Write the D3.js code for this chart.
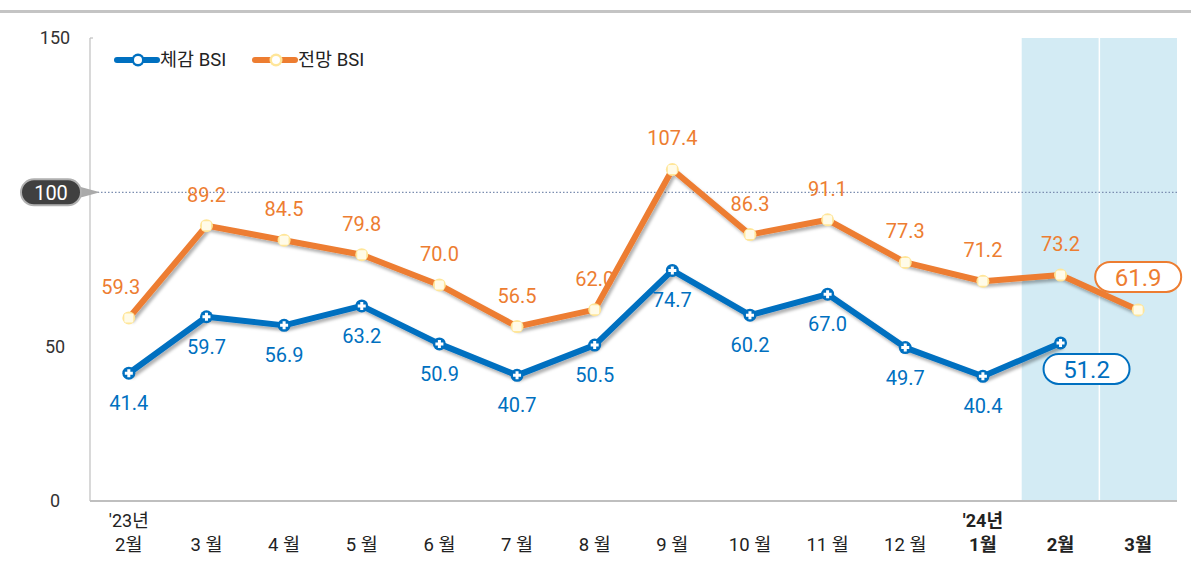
<!DOCTYPE html>
<html>
<head>
<meta charset="utf-8">
<script src="https://d3js.org/d3.v7.min.js"></script>
<style>
  body { margin: 0; background: #fff; }
  text { font-family: Roboto, "Noto Sans CJK KR", sans-serif; }
</style>
</head>
<body>
<svg width="1191" height="572"></svg>
<script>
// categories (x axis), two rows of labels
var months = ["2월", "3 월", "4 월", "5 월", "6 월", "7 월", "8 월", "9 월", "10 월", "11 월", "12 월", "1월", "2월", "3월"];
var yearLabels = ["'23년", "", "", "", "", "", "", "", "", "", "", "'24년", "", ""];
var boldMonths = [11, 12, 13];

// series
var realBSI = [41.4, 59.7, 56.9, 63.2, 50.9, 40.7, 50.5, 74.7, 60.2, 67.0, 49.7, 40.4, 51.2];
var outlookBSI = [59.3, 89.2, 84.5, 79.8, 70.0, 56.5, 62.0, 107.4, 86.3, 91.1, 77.3, 71.2, 73.2, 61.9];
var yTicks = [0, 50, 150];
var refValue = 100;

var blue = "#0070c0", orange = "#ed7d31";

var svg = d3.select("svg");
var margin = {top: 38, right: 14, bottom: 71, left: 90};
var width = +svg.attr("width") - margin.left - margin.right,
    height = +svg.attr("height") - margin.top - margin.bottom;

var defs = svg.append("defs");
var f = defs.append("filter").attr("id", "shadow").attr("x", "-10%").attr("y", "-10%").attr("width", "120%").attr("height", "130%");
f.append("feDropShadow").attr("dx", 2).attr("dy", 3).attr("stdDeviation", 1.8)
  .attr("flood-color", "#000").attr("flood-opacity", 0.3);

// top grey rule
svg.append("rect").attr("x", 0).attr("y", 10).attr("width", 1191).attr("height", 3).attr("fill", "#c4c4c4");

var g = svg.append("g").attr("transform", "translate(" + margin.left + "," + margin.top + ")");

var x = d3.scaleBand().domain(d3.range(months.length)).range([0, width]);
var y = d3.scaleLinear().domain([0, 150]).range([height, 0]);
var cx = function(i) { return x(i) + x.bandwidth() / 2; };

// shaded forecast bands
[12, 13].forEach(function(i) {
  g.append("rect").attr("x", x(i)).attr("y", 0).attr("width", x.bandwidth()).attr("height", height)
    .attr("fill", "#d3ebf4");
});
g.append("line").attr("x1", x(13)).attr("x2", x(13)).attr("y1", 0).attr("y2", height)
  .attr("stroke", "#fff").attr("stroke-width", 1.5);

// axes lines
g.append("line").attr("x1", 0).attr("x2", 0).attr("y1", 0).attr("y2", height).attr("stroke", "#bfbfbf").attr("stroke-width", 1.2);
g.append("line").attr("x1", 0).attr("x2", 3).attr("y1", 0).attr("y2", 0).attr("stroke", "#bfbfbf").attr("stroke-width", 1.2);
g.append("line").attr("x1", 0).attr("x2", width).attr("y1", height).attr("y2", height).attr("stroke", "#bfbfbf").attr("stroke-width", 2);

g.selectAll(".ytick").data(yTicks).enter().append("text")
  .attr("x", -35).attr("y", function(d) { return y(d); }).attr("dy", "0.35em")
  .attr("text-anchor", "middle").attr("font-size", 18).attr("fill", "#333")
  .text(function(d) { return d; });

// reference line at 100
g.append("line").attr("x1", 4).attr("x2", width).attr("y1", y(refValue)).attr("y2", y(refValue))
  .attr("stroke", "#7b8db0").attr("stroke-width", 1.3).attr("stroke-dasharray", "1.5,2");
var ry = y(refValue);
g.append("path")
  .attr("d", "M-12," + (ry - 6) + " L10," + ry + " L-12," + (ry + 6) + " Z")
  .attr("fill", "#aaa");
g.append("rect").attr("x", -69).attr("y", ry - 13).attr("width", 60).attr("height", 26).attr("rx", 13)
  .attr("fill", "#404040").attr("stroke", "#b0b0b0").attr("stroke-width", 2);
g.append("text").attr("x", -39).attr("y", ry).attr("dy", "0.36em").attr("text-anchor", "middle")
  .attr("font-size", 20).attr("fill", "#fff").text(refValue);

// x labels
var xl = g.selectAll(".xl").data(months).enter().append("g")
  .attr("transform", function(d, i) { return "translate(" + cx(i) + "," + (height + 20) + ")"; });
xl.append("text").attr("text-anchor", "middle").attr("y", 0).attr("dy", "0.35em")
  .attr("font-size", 18).attr("fill", "#222")
  .attr("font-weight", function(d, i) { return boldMonths.indexOf(i) >= 0 ? "bold" : "normal"; })
  .text(function(d, i) { return yearLabels[i]; });
xl.append("text").attr("text-anchor", "middle").attr("y", 24).attr("dy", "0.35em")
  .attr("font-size", 18.5).attr("fill", "#222")
  .attr("font-weight", function(d, i) { return boldMonths.indexOf(i) >= 0 ? "bold" : "normal"; })
  .text(function(d) { return d; });

// lines
var line = d3.line().x(function(d, i) { return cx(i); }).y(function(d) { return y(d); });
g.append("path").datum(outlookBSI).attr("d", line).attr("fill", "none").attr("stroke", orange)
  .attr("stroke-width", 6).attr("stroke-linejoin", "round").attr("filter", "url(#shadow)");
g.append("path").datum(realBSI).attr("d", line).attr("fill", "none").attr("stroke", blue)
  .attr("stroke-width", 6).attr("stroke-linejoin", "round").attr("filter", "url(#shadow)");

// markers
function orangeMarker(sel) {
  sel.append("circle").attr("r", 6.5).attr("fill", "#ffe699");
  sel.append("rect").attr("x", -4.5).attr("y", -4.5).attr("width", 9).attr("height", 9).attr("rx", 1.5).attr("fill", "#fffbe8");
}
function blueMarker(sel) {
  sel.append("circle").attr("r", 6.5).attr("fill", blue);
  sel.append("path").attr("d", "M-4,0H4M0,-4V4").attr("stroke", "#fff").attr("stroke-width", 3);
}
g.selectAll(".om").data(outlookBSI).enter().append("g")
  .attr("transform", function(d, i) { return "translate(" + cx(i) + "," + y(d) + ")"; }).call(orangeMarker);
g.selectAll(".bm").data(realBSI).enter().append("g")
  .attr("transform", function(d, i) { return "translate(" + cx(i) + "," + y(d) + ")"; }).call(blueMarker);

// value labels
var lastO = outlookBSI.length - 1, lastB = realBSI.length - 1;
g.selectAll(".ol").data(outlookBSI.slice(0, lastO)).enter().append("text")
  .attr("x", function(d, i) { return cx(i) - (i === 0 ? 8 : 0); }).attr("y", function(d) { return y(d) - 31; })
  .attr("dy", "0.35em").attr("text-anchor", "middle").attr("font-size", 20).attr("fill", orange)
  .text(function(d) { return d.toFixed(1); });
g.selectAll(".bl").data(realBSI.slice(0, lastB)).enter().append("text")
  .attr("x", function(d, i) { return cx(i); }).attr("y", function(d) { return y(d) + 30; })
  .attr("dy", "0.35em").attr("text-anchor", "middle").attr("font-size", 20).attr("fill", blue)
  .text(function(d) { return d.toFixed(1); });

// highlighted latest values
function pill(px, py, val, color) {
  g.append("rect").attr("x", px - 43).attr("y", py - 15).attr("width", 86).attr("height", 30).attr("rx", 15)
    .attr("fill", "#fff").attr("stroke", color).attr("stroke-width", 2);
  g.append("text").attr("x", px).attr("y", py).attr("dy", "0.36em").attr("text-anchor", "middle")
    .attr("font-size", 24).attr("fill", color).text(val.toFixed(1));
}
pill(cx(lastB) + 26, y(realBSI[lastB]) + 26, realBSI[lastB], blue);
pill(cx(lastO), y(outlookBSI[lastO]) - 33, outlookBSI[lastO], orange);

// legend
var legend = [{name: "체감 BSI", color: blue, marker: blueMarker, x: 27},
              {name: "전망 BSI", color: orange, marker: orangeMarker, x: 165}];
var lg = g.selectAll(".lg").data(legend).enter().append("g")
  .attr("transform", function(d) { return "translate(" + d.x + ",22)"; });
lg.append("line").attr("x1", 0).attr("x2", 40).attr("stroke", function(d) { return d.color; })
  .attr("stroke-width", 6).attr("stroke-linecap", "round");
lg.append("circle").attr("cx", 21).attr("r", 6.5).attr("fill", function(d) { return d.color === blue ? blue : "#ffe699"; });
lg.append("circle").attr("cx", 21).attr("r", 4).attr("fill", "#fff");
lg.append("text").attr("x", 43).attr("dy", "0.35em").attr("font-size", 18.5).attr("fill", "#222")
  .text(function(d) { return d.name; });
</script>
</body>
</html>
